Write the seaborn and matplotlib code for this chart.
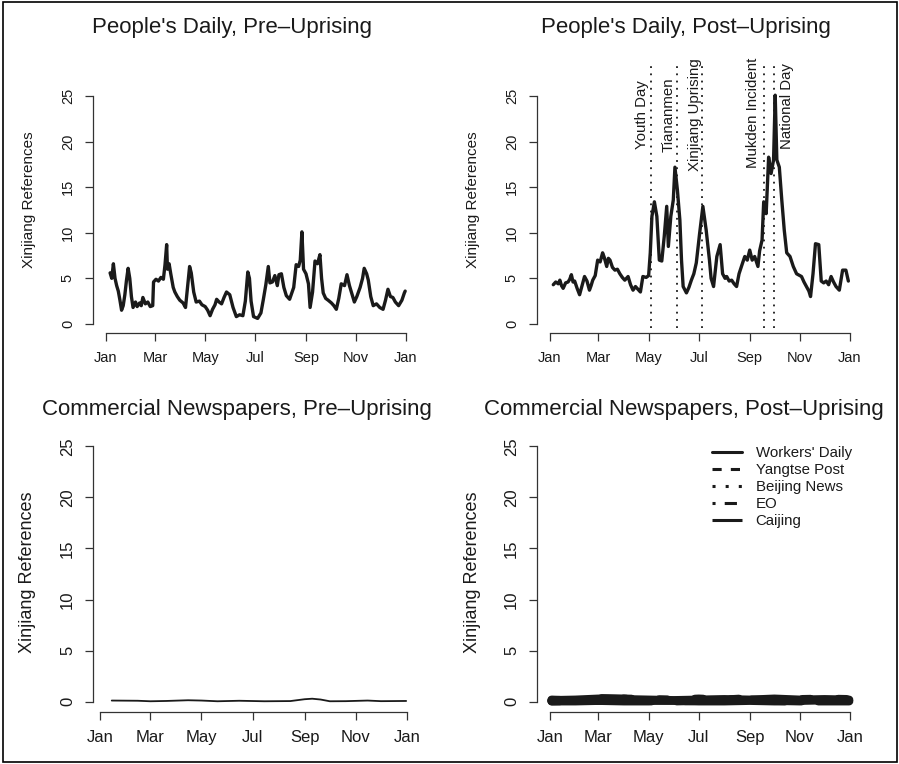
import matplotlib
matplotlib.use("Agg")
import matplotlib.pyplot as plt
import matplotlib.dates as mdates
from matplotlib.lines import Line2D
from matplotlib.patches import Rectangle
import seaborn as sns
import pandas as pd

sns.set_style("white")
plt.rcParams['font.family'] = ['Liberation Sans', 'DejaVu Sans']
INK = '#1a1a1a'

# ---- data ----
# People's Daily, pre-uprising (2008)
pre_dates = ['01-06', '01-08', '01-10', '01-12', '01-14', '01-16', '01-18', '01-20', '01-22', '01-24',
             '01-26', '01-28', '01-30', '02-01', '02-03', '02-06', '02-08', '02-11', '02-13', '02-15',
             '02-18', '02-21', '02-24', '02-27', '02-28', '03-02', '03-05', '03-08', '03-11', '03-13',
             '03-15', '03-16', '03-18', '03-20', '03-23', '03-25', '03-28', '03-31', '04-04', '04-07',
             '04-10', '04-12', '04-14', '04-17', '04-20', '04-24', '04-27', '05-01', '05-04', '05-07',
             '05-10', '05-13', '05-15', '05-18', '05-21', '05-24', '05-27', '05-31', '06-04', '06-08',
             '06-12', '06-16', '06-19', '06-22', '06-24', '06-26', '06-29', '07-04', '07-08', '07-11',
             '07-14', '07-17', '07-19', '07-22', '07-25', '07-28', '07-30', '08-02', '08-05', '08-08',
             '08-12', '08-15', '08-17', '08-20', '08-23', '08-25', '08-27', '08-29', '09-01', '09-04',
             '09-06', '09-09', '09-12', '09-15', '09-18', '09-20', '09-22', '09-25', '09-28', '10-02',
             '10-05', '10-08', '10-11', '10-14', '10-18', '10-21', '10-24', '10-27', '10-30', '11-02',
             '11-06', '11-09', '11-11', '11-14', '11-16', '11-19', '11-22', '11-26', '11-30', '12-04',
             '12-07', '12-10', '12-13', '12-16', '12-19', '12-23', '12-27', '12-30', '12-31']
pre_refs = [5.6, 5.0, 6.6, 5.0, 4.2, 3.6, 2.6, 1.5, 2.0, 3.2,
            4.8, 6.1, 5.0, 3.0, 1.8, 2.4, 1.9, 2.3, 2.0, 2.9,
            2.2, 2.4, 1.9, 2.0, 4.6, 4.9, 4.7, 5.1, 4.9, 6.5,
            8.7, 6.0, 6.6, 5.5, 4.0, 3.5, 3.0, 2.6, 2.3, 1.8,
            4.5, 6.3, 5.6, 3.5, 2.4, 2.5, 2.1, 1.9, 1.5, 0.9,
            1.6, 2.1, 2.7, 2.4, 2.2, 2.9, 3.5, 3.2, 1.8, 0.8,
            1.0, 0.9, 2.5, 5.7, 5.0, 2.5, 0.8, 0.6, 1.2, 2.7,
            4.3, 6.3, 4.5, 4.6, 5.3, 4.2, 5.4, 5.5, 4.0, 3.1,
            2.7, 3.5, 4.0, 6.5, 6.3, 7.0, 10.1, 6.0, 5.5, 4.4,
            1.8, 3.5, 6.9, 6.6, 7.6, 5.0, 3.4, 2.8, 2.6, 2.3,
            2.0, 1.6, 2.8, 4.4, 4.2, 5.4, 4.2, 3.3, 2.4, 3.0,
            4.0, 5.0, 6.1, 5.5, 4.8, 3.0, 2.0, 2.2, 1.8, 1.6,
            2.6, 3.8, 3.0, 2.9, 2.4, 2.0, 2.6, 3.4, 3.6]

# People's Daily, post-uprising (2009)
post_dates = ['01-05', '01-08', '01-11', '01-13', '01-15', '01-17', '01-20', '01-23', '01-25', '01-27',
              '01-29', '01-31', '02-03', '02-06', '02-09', '02-12', '02-15', '02-18', '02-20', '02-22',
              '02-25', '02-28', '03-03', '03-06', '03-08', '03-11', '03-13', '03-15', '03-18', '03-21',
              '03-24', '03-27', '03-30', '04-02', '04-06', '04-09', '04-12', '04-15', '04-18', '04-21',
              '04-24', '04-28', '05-01', '05-03', '05-05', '05-08', '05-11', '05-14', '05-17', '05-20',
              '05-23', '05-25', '05-28', '05-31', '06-02', '06-05', '06-08', '06-10', '06-12', '06-16',
              '06-19', '06-22', '06-25', '06-28', '07-02', '07-06', '07-10', '07-14', '07-16', '07-19',
              '07-23', '07-27', '07-30', '08-02', '08-04', '08-07', '08-10', '08-13', '08-16', '08-19',
              '08-23', '08-26', '08-29', '09-01', '09-04', '09-07', '09-11', '09-13', '09-16', '09-18',
              '09-21', '09-24', '09-27', '09-30', '10-02', '10-04', '10-07', '10-10', '10-13', '10-16',
              '10-20', '10-24', '10-28', '11-03', '11-06', '11-09', '11-12', '11-14', '11-17', '11-20',
              '11-24', '11-27', '11-30', '12-03', '12-06', '12-09', '12-12', '12-15', '12-19', '12-23',
              '12-27', '12-30']
post_refs = [4.3, 4.6, 4.4, 4.8, 4.2, 3.9, 4.5, 4.6, 4.9, 5.4,
             4.6, 4.7, 3.9, 3.2, 4.2, 5.2, 4.7, 3.7, 4.2, 4.8,
             5.3, 7.0, 6.8, 7.8, 7.3, 6.3, 7.2, 7.0, 6.2, 5.9,
             6.0, 5.5, 5.1, 4.8, 5.2, 4.3, 3.7, 4.1, 3.8, 3.5,
             5.2, 5.1, 5.3, 7.8, 11.8, 13.4, 11.8, 7.0, 6.9, 9.6,
             12.9, 8.5, 11.8, 13.6, 17.2, 14.7, 11.4, 7.0, 4.1, 3.4,
             4.0, 4.8, 5.5, 6.7, 9.9, 12.9, 10.3, 7.0, 5.0, 4.1,
             7.4, 8.7, 5.5, 5.0, 5.2, 4.7, 4.8, 4.4, 4.1, 5.5,
             6.6, 7.4, 7.0, 8.1, 7.0, 7.4, 6.3, 8.0, 9.2, 13.4,
             12.1, 18.3, 16.5, 18.0, 25.1, 18.0, 17.2, 13.6, 10.3, 7.8,
             7.4, 6.3, 5.5, 5.2, 4.6, 4.1, 3.6, 3.0, 5.5, 8.8,
             8.7, 4.7, 4.5, 4.7, 4.3, 5.2, 4.6, 4.1, 3.7, 5.9,
             5.9, 4.7]

event_names = ['Youth Day', 'Tiananmen', 'Xinjiang Uprising', 'Mukden Incident', 'National Day']
event_dates = ['2009-05-04', '2009-06-04', '2009-07-05', '2009-09-18', '2009-10-01']

# Commercial newspapers, pre-uprising (2008)
com_pre_dates = ['01-15', '02-15', '03-01', '03-20', '04-15', '05-01', '05-20', '06-15', '07-15',
                 '08-15', '09-01', '09-10', '09-20', '10-01', '10-20', '11-15', '12-01', '12-31']
com_pre_refs = [0.12, 0.10, 0.05, 0.08, 0.15, 0.12, 0.05, 0.10, 0.05,
                0.07, 0.25, 0.30, 0.22, 0.05, 0.06, 0.12, 0.06, 0.08]

# Commercial newspapers, post-uprising (2009)
com_post_dates = ['01-03', '02-01', '03-01', '04-01', '05-01', '06-01', '07-01',
                  '08-01', '09-01', '10-01', '11-01', '12-01', '12-31']
papers = ["Workers' Daily", 'Yangtse Post', 'Beijing News', 'EO', 'Caijing']
workers_daily = [0.15, 0.20, 0.30, 0.25, 0.20, 0.15, 0.20, 0.25, 0.20, 0.30, 0.20, 0.25, 0.20]
yangtse_post = [0.10, 0.15, 0.35, 0.30, 0.10, 0.10, 0.15, 0.10, 0.20, 0.15, 0.10, 0.15, 0.10]
beijing_news = [0.20, 0.10, 0.20, 0.30, 0.25, 0.20, 0.30, 0.20, 0.35, 0.20, 0.25, 0.30, 0.25]
eo = [0.05, 0.10, 0.10, 0.15, 0.10, 0.05, 0.10, 0.10, 0.10, 0.10, 0.05, 0.10, 0.10]
caijing = [0.05, 0.05, 0.10, 0.05, 0.05, 0.10, 0.05, 0.05, 0.10, 0.05, 0.05, 0.05, 0.05]
paper_styles = ['-', (0, (3, 3)), (0, (1, 3.3)), (0, (1, 3, 4, 3)), (0, (12, 4))]

month_ticks = ['Jan', 'Mar', 'May', 'Jul', 'Sep', 'Nov', 'Jan']

# ---- layout (pixels of a 899x764 canvas) ----
W, H = 899, 764
fig = plt.figure(figsize=(W / 100, H / 100), dpi=100)
fig.add_artist(Rectangle((3 / W, 2 / H), 894 / W, 760 / H, transform=fig.transFigure,
                         fill=False, edgecolor='black', lw=1.2))


def make_ax(left, right, top, bottom):
    return fig.add_axes([left / W, 1 - bottom / H, (right - left) / W, (bottom - top) / H])


def to_dates(year, mmdd):
    return pd.to_datetime([f'{year}-{d}' for d in mmdd])


def style(ax, year, ax_left, jan_px, jan2_px, ax_right, tick_fs, pad):
    start = pd.Timestamp(f'{year}-01-01')
    end = pd.Timestamp(f'{year + 1}-01-01')
    dpp = (end - start).days / (jan2_px - jan_px)
    x0 = mdates.date2num(start)
    ax.set_xlim(x0 - (jan_px - ax_left) * dpp, mdates.date2num(end) + (ax_right - jan2_px) * dpp)
    ax.set_ylim(-1, 26)
    ticks = [pd.Timestamp(f'{year}-{m:02d}-01') for m in (1, 3, 5, 7, 9, 11)] + [end]
    ax.set_xticks(ticks)
    ax.set_xticklabels(month_ticks)
    ax.set_yticks([0, 5, 10, 15, 20, 25])
    ax.set_yticklabels(['0', '5', '10', '15', '20', '25'], rotation=90, va='center')
    for s in ('top', 'right'):
        ax.spines[s].set_visible(False)
    ax.spines['left'].set_bounds(0, 25)
    ax.spines['bottom'].set_bounds(mdates.date2num(ticks[0]), mdates.date2num(ticks[-1]))
    for s in ('left', 'bottom'):
        ax.spines[s].set_color('#333333')
        ax.spines[s].set_linewidth(0.9)
    ax.tick_params(bottom=True, left=True, direction='out', length=6, width=0.9, color='#333333',
                   labelsize=tick_fs, labelcolor=INK, pad=pad)
    ax.set_xlabel('')
    ax.set_ylabel('')
    ax.patch.set_alpha(0)


# top-left: People's Daily pre
ax1 = make_ax(93, 420, 87, 333)
sns.lineplot(x=to_dates(2008, pre_dates), y=pre_refs, ax=ax1, color=INK, lw=2.4)
style(ax1, 2008, 93, 106, 406, 420, 10.5, 7)

# top-right: People's Daily post
ax2 = make_ax(537, 866, 87, 333)
sns.lineplot(x=to_dates(2009, post_dates), y=post_refs, ax=ax2, color=INK, lw=2.4)
style(ax2, 2009, 537, 550, 850, 866, 10.5, 7)
text_shift = [-11, -10, -9, -13, 15]
text_y = [23.0, 23.0, 23.0, 23.2, 23.9]
for name, d, dx, ty in zip(event_names, event_dates, text_shift, text_y):
    xd = mdates.date2num(pd.Timestamp(d))
    ax2.plot([xd, xd], [-0.4, 28.7], ls=(0, (1, 3)), color=INK, lw=1.3, clip_on=False)
    ax2.text(xd + dx, ty, name, rotation=90, ha='center', va='center', fontsize=10.8,
             color=INK, clip_on=False)

# bottom-left: commercial pre
ax3 = make_ax(93, 420, 436, 712)
sns.lineplot(x=to_dates(2008, com_pre_dates), y=com_pre_refs, ax=ax3, color=INK, lw=1.3)
style(ax3, 2008, 93, 100, 407, 420, 12, 7)

# bottom-right: commercial post
ax4 = make_ax(537, 866, 436, 712)
series = [workers_daily, yangtse_post, beijing_news, eo, caijing]
for vals, ls in zip(series, paper_styles):
    sns.lineplot(x=to_dates(2009, com_post_dates), y=vals, ax=ax4, color=INK, lw=6,
                 linestyle=ls, solid_capstyle='round', dash_capstyle='round')
style(ax4, 2009, 537, 550, 850, 866, 12, 7)
handles = [Line2D([], [], color=INK, lw=2.2, linestyle=ls) for ls in paper_styles]
fig.legend(handles, papers, loc='upper left', bbox_to_anchor=(712 / W, 1 - 446 / H),
           frameon=False, fontsize=10.8, handlelength=2.0, handletextpad=0.9,
           labelspacing=0.2, borderpad=0, borderaxespad=0, labelcolor=INK)

# titles and y labels
for x, y, txt in [(232, 28, "People's Daily, Pre\u2013Uprising"),
                  (686, 28, "People's Daily, Post\u2013Uprising"),
                  (237, 410, 'Commercial Newspapers, Pre\u2013Uprising'),
                  (684, 410, 'Commercial Newspapers, Post\u2013Uprising')]:
    fig.text(x / W, 1 - y / H, txt, ha='center', va='center',
             fontsize=16 if y > 100 else 16.0, color=INK)
for x, y, fs in [(29, 200, 11), (473, 200, 11), (28, 572, 13), (472, 572, 13)]:
    fig.text(x / W, 1 - y / H, 'Xinjiang References', rotation=90, ha='center', va='center',
             fontsize=fs, color=INK)

fig.savefig('out.png', dpi=100)
